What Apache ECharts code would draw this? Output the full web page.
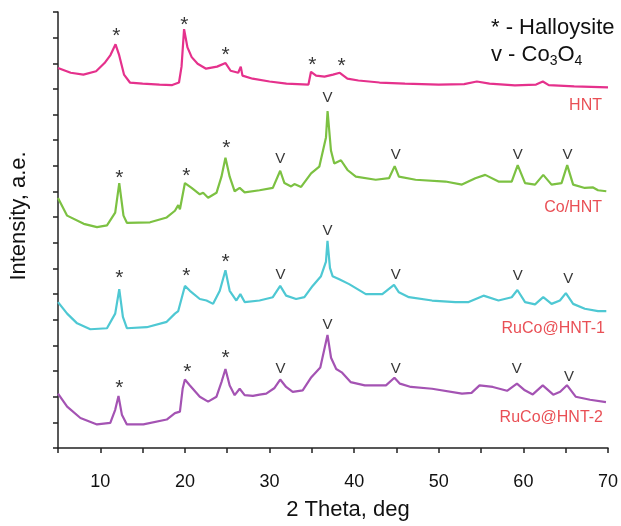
<!DOCTYPE html>
<html>
<head>
<meta charset="utf-8">
<script src="https://cdn.jsdelivr.net/npm/echarts@6/dist/echarts.min.js"></script>
<style>html,body{margin:0;padding:0;background:#fff}#c{width:621px;height:526px}</style>
</head>
<body>
<div id="c"></div>
<script>
// 2 Theta (deg), intensity (a.u., offset stacked)
const hnt = [[5.0,14.82],[6.5,14.63],[8.0,14.56],[9.5,14.69],[10.5,15.01],[11.2,15.32],[11.8,15.74],[12.2,15.35],[12.8,14.56],[13.5,14.25],[15.0,14.21],[17.0,14.17],[18.5,14.15],[19.3,14.25],[19.6,14.87],[19.9,16.33],[20.3,15.62],[20.8,15.24],[21.5,14.98],[22.5,14.79],[23.8,14.87],[24.8,15.01],[25.4,14.71],[26.3,14.63],[26.6,14.87],[26.8,14.52],[28.0,14.40],[30.0,14.29],[32.0,14.21],[34.6,14.17],[34.9,14.67],[35.5,14.52],[36.5,14.48],[37.5,14.56],[38.3,14.63],[39.2,14.40],[40.5,14.33],[43.0,14.25],[46.0,14.21],[50.0,14.17],[53.0,14.19],[54.5,14.29],[56.0,14.21],[59.0,14.14],[61.5,14.17],[62.3,14.29],[63.0,14.15],[66.0,14.10],[70.0,14.06]];
const coHnt = [[5.0,9.75],[6.08,9.06],[8.04,8.74],[9.61,8.61],[10.79,8.68],[11.76,9.18],[12.24,10.33],[12.74,9.06],[13.14,8.78],[15.88,8.80],[17.85,8.99],[18.82,9.25],[19.21,9.47],[19.41,9.31],[20.0,10.33],[20.79,10.14],[21.76,9.89],[22.15,9.95],[22.74,9.76],[23.73,9.95],[24.32,10.58],[24.79,11.32],[25.29,10.58],[25.88,10.01],[26.47,10.14],[27.06,9.97],[28.82,10.05],[30.39,10.14],[31.26,10.81],[31.76,10.33],[32.55,10.20],[32.94,10.29],[33.73,10.18],[34.91,10.71],[35.88,10.97],[36.67,12.11],[36.86,13.14],[37.26,11.60],[37.65,11.09],[38.44,11.22],[39.21,10.84],[40.2,10.58],[42.55,10.46],[44.12,10.52],[44.79,10.99],[45.29,10.58],[47.26,10.46],[50.79,10.39],[52.74,10.27],[54.32,10.52],[55.49,10.65],[57.06,10.39],[58.62,10.39],[59.33,11.03],[60.2,10.33],[61.38,10.27],[62.35,10.65],[63.33,10.27],[64.51,10.33],[65.18,11.03],[65.88,10.27],[67.26,10.14],[68.24,10.16],[68.82,10.05],[69.8,10.01]];
const ruCo1 = [[5.0,5.69],[6.08,5.24],[7.26,4.86],[8.82,4.63],[10.79,4.67],[11.76,5.24],[12.24,6.19],[12.67,5.11],[13.14,4.67],[15.49,4.71],[17.85,4.92],[18.82,5.24],[19.21,5.34],[19.41,5.28],[20.0,6.32],[20.59,6.13],[21.76,5.81],[22.55,5.75],[23.33,5.62],[24.12,6.13],[24.79,6.93],[25.29,6.13],[26.08,5.75],[26.55,6.00],[27.06,5.69],[28.82,5.75],[30.39,5.88],[31.26,6.32],[31.96,5.94],[33.14,5.81],[34.12,5.88],[35.09,6.32],[36.08,6.70],[36.67,7.27],[36.85,8.08],[37.14,7.02],[37.45,6.70],[38.24,6.58],[39.41,6.39],[41.38,6.00],[43.33,6.00],[44.71,6.36],[45.29,6.07],[46.47,5.88],[49.21,5.75],[51.96,5.69],[53.53,5.69],[55.29,5.94],[57.06,5.75],[58.62,5.88],[59.29,6.16],[60.2,5.69],[61.38,5.60],[62.35,5.88],[63.33,5.62],[64.32,5.75],[65.02,6.04],[65.88,5.62],[67.26,5.43],[68.82,5.34],[69.8,5.34]];
const ruCo2 = [[5.0,2.12],[6.08,1.61],[7.65,1.17],[9.61,0.92],[11.18,0.98],[11.76,1.49],[12.15,2.03],[12.55,1.30],[13.14,0.92],[15.09,0.92],[17.85,1.11],[18.82,1.36],[19.41,1.42],[19.73,2.31],[20.0,2.67],[20.59,2.44],[21.76,2.00],[22.74,1.81],[23.73,2.00],[24.32,2.57],[24.79,3.08],[25.29,2.44],[25.88,2.06],[26.47,2.31],[27.06,2.06],[28.04,2.03],[28.82,2.08],[29.61,2.12],[30.59,2.34],[31.26,2.67],[31.96,2.38],[32.74,2.19],[33.92,2.25],[34.94,2.76],[36.0,3.14],[36.85,4.41],[37.27,3.52],[37.88,3.08],[38.53,2.95],[39.58,2.57],[41.26,2.44],[43.76,2.44],[44.76,2.74],[45.41,2.51],[46.71,2.38],[49.21,2.31],[52.74,2.12],[53.87,2.15],[54.82,2.44],[56.39,2.38],[58.07,2.23],[59.24,2.51],[60.17,2.25],[61.11,2.09],[62.29,2.44],[63.53,2.08],[64.35,2.19],[65.15,2.45],[66.18,2.00],[67.88,1.88],[69.76,1.79]];

// halloysite peak markers (*): [2theta, intensity]
const starMarks = [
  [11.88,16.23],[19.92,16.65],[24.82,15.47],[35.06,15.09],[38.53,15.05],
  [12.24,10.69],[20.18,10.77],[24.88,11.83],
  [12.24,6.79],[20.18,6.87],[24.82,7.40],
  [12.24,2.47],[20.29,3.10],[24.82,3.65]
];
// Co3O4 peak markers (v): [2theta, intensity]
const vMarks = [
  [31.26,11.28],[36.86,13.64],[44.91,11.44],[59.33,11.44],[65.21,11.44],
  [31.29,6.74],[36.86,8.48],[44.91,6.77],[59.33,6.70],[65.29,6.61],
  [31.29,3.08],[36.86,4.82],[44.91,3.08],[59.21,3.08],[65.38,2.76]
];
// sample names: [2theta (right edge), intensity, name]
const sampleNames = [[69.29,13.35,'HNT'],[69.29,9.36,'Co/HNT'],[69.64,4.67,'RuCo@HNT-1'],[69.41,1.19,'RuCo@HNT-2']];
const xTicks = [10,20,30,40,50,60,70];

const FONT = 'Liberation Sans, Arial, sans-serif';
const chart = echarts.init(document.getElementById('c'));
const lineS = (name, data, color) => ({
  name, type: 'line', data, showSymbol: false, symbol: 'none', animation: false,
  lineStyle: { color, width: 2.2 }, z: 2
});
const textMarks = (data, text, size, offset) => ({
  type: 'scatter', data, symbolSize: 1, itemStyle: { color: 'rgba(0,0,0,0)' }, z: 5,
  label: { show: true, position: 'inside', offset, color: '#000', fontFamily: FONT, fontSize: size,
    formatter: () => text }
});
chart.setOption({
  animation: false,
  backgroundColor: '#fff',
  grid: { left: 58, right: 11, top: 12, bottom: 69 },
  title: {
    left: 486, top: 9,
    text: '{a|* - Halloysite}\n{a|v - Co}{s|3}{a|O}{s|4}',
    textStyle: {
      fontWeight: 'normal',
      rich: {
        a: { fontFamily: FONT, fontSize: 22, fontWeight: 'normal', color: '#111', lineHeight: 27 },
        s: { fontFamily: FONT, fontSize: 14, fontWeight: 'normal', color: '#111', lineHeight: 27, padding: [14, 0, 0, 0] }
      }
    }
  },
  xAxis: {
    type: 'value', min: 5, max: 70, interval: 5,
    name: '2 Theta, deg', nameLocation: 'middle', nameGap: 51,
    nameTextStyle: { fontFamily: FONT, fontSize: 22, color: '#111', padding: [0, 0, 0, 30] },
    axisLine: { lineStyle: { color: '#222', width: 1.5 } },
    axisTick: { length: 5, lineStyle: { color: '#222', width: 1.5 } },
    axisLabel: { fontFamily: FONT, fontSize: 18, color: '#111', margin: 25,
      formatter: v => xTicks.includes(v) ? String(v) : '' },
    splitLine: { show: false }
  },
  yAxis: {
    type: 'value', min: 0, max: 17, interval: 1,
    name: 'Intensity, a.e.', nameLocation: 'middle', nameGap: 28, nameRotate: 90,
    nameTextStyle: { fontFamily: FONT, fontSize: 22, color: '#111', padding: [0, 0, 0, 28] },
    axisLine: { show: true, lineStyle: { color: '#222', width: 1.5 } },
    axisTick: { show: true, length: 5, lineStyle: { color: '#222', width: 1.5 } },
    axisLabel: { show: false },
    splitLine: { show: false }
  },
  series: [
    lineS('HNT', hnt, '#e5318c'),
    lineS('Co/HNT', coHnt, '#7cc142'),
    lineS('RuCo@HNT-1', ruCo1, '#4ec8d3'),
    lineS('RuCo@HNT-2', ruCo2, '#a453b3'),
    textMarks(starMarks, '*', 21, [0, 4]),
    textMarks(vMarks, 'V', 15, [0, 0]),
    {
      type: 'scatter', data: sampleNames, symbolSize: 1, itemStyle: { color: 'rgba(0,0,0,0)' }, z: 5,
      label: { show: true, position: 'inside', align: 'right', color: '#e3232a', fontFamily: FONT, fontSize: 16,
        formatter: p => p.data[2] }
    }
  ]
});
</script>
</body>
</html>
